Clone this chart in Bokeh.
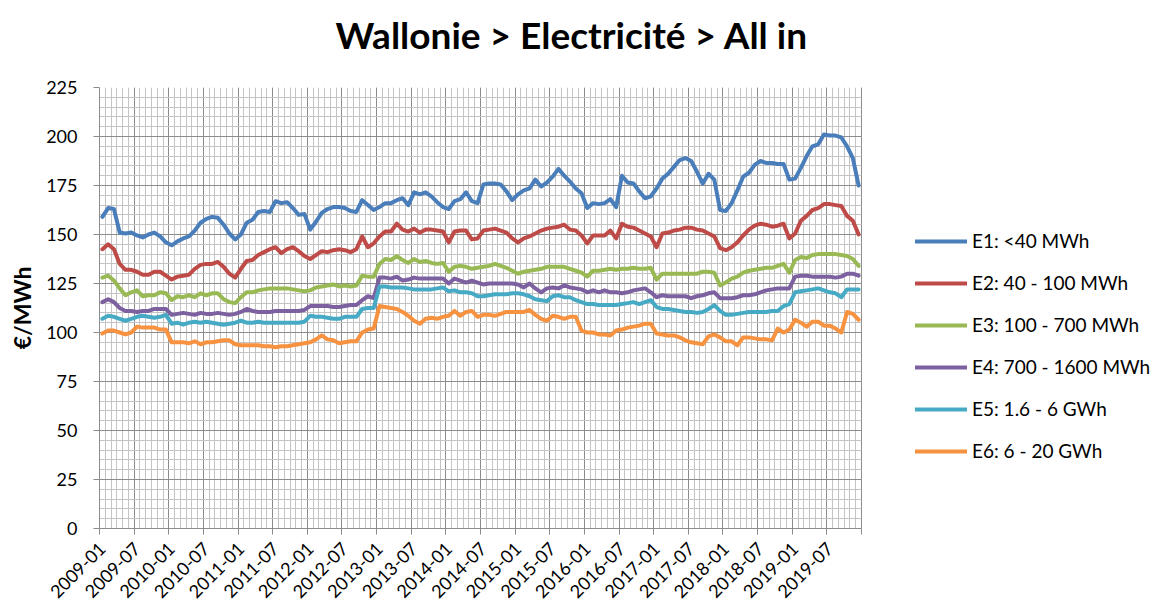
from math import pi
from bokeh.plotting import figure
from bokeh.models import FixedTicker, Legend, LegendItem, Range1d, Grid, BoxAnnotation, Title
from bokeh.embed import file_html
from bokeh.resources import INLINE

# ---- data -------------------------------------------------------------
months = [f"{y}-{m:02d}" for y in range(2009, 2020) for m in range(1, 13)]

tick_labels = ["2009-01", "2009-07", "2010-01", "2010-07", "2011-01", "2011-07",
               "2012-01", "2012-07", "2013-01", "2013-07", "2014-01", "2014-07",
               "2015-01", "2015-07", "2016-01", "2016-07", "2017-01", "2017-07",
               "2018-01", "2018-07", "2019-01", "2019-07"]

series_names = ["E1: <40 MWh", "E2: 40 - 100 MWh", "E3: 100 - 700 MWh",
                "E4: 700 - 1600 MWh", "E5: 1.6 - 6 GWh", "E6: 6 - 20 GWh"]

E1 = [159, 163.5, 163, 151, 150.5, 151, 149.5, 148.5, 150, 151, 149, 146,
      144.5, 146.5, 148, 149, 152, 156, 158, 159, 158.5, 155, 150.5, 147.5,
      150, 156, 157.5, 161.5, 162, 161.5, 167, 166, 166.5, 163.5, 160, 160.5,
      152.5, 156.5, 161, 163, 164, 164, 163.5, 162, 161.5, 167.5, 165, 162.5,
      164, 166, 166, 167.5, 168.5, 165, 171.5, 170.5, 171.5, 169.5, 166.5, 164,
      163, 167, 168, 171.5, 167, 166, 175.5, 176, 176, 175.5, 172, 167.5,
      170.5, 172.5, 173.5, 178, 174.5, 176.5, 179.5, 183.5, 180, 177, 173.5, 171,
      163.5, 166, 165.5, 166, 168, 164, 180, 176.5, 176, 172, 168.5, 169.5,
      173.5, 178.5, 181, 184.5, 188, 189, 187.5, 182, 176, 181, 178, 162.5,
      162, 166, 172.5, 179.5, 181.5, 185.5, 187.5, 186.5, 186.5, 186, 186, 178,
      178.5, 184, 190, 195, 196, 201, 200.5, 200.5, 199.5, 195, 189, 175]

E2 = [142.5, 145, 142.5, 135, 132, 132, 131, 129.5, 129.5, 131, 131, 129,
      127, 128.5, 129, 129.5, 132.5, 134.5, 135, 135, 136, 133.5, 130, 128,
      132.5, 136.5, 137, 139.5, 141, 142.5, 143.5, 140.5, 142.5, 143.5, 141.5, 139,
      137.5, 139.5, 141.5, 141, 142, 142.5, 142, 141, 142.5, 149, 143.5, 145.5,
      149, 151.5, 151.5, 155.5, 152.5, 151.5, 153, 151, 152.5, 152.5, 152, 151.5,
      146, 151.5, 152, 152, 147.5, 148, 152, 152.5, 153, 152, 151, 148,
      146, 148, 149, 150.5, 152, 153, 153.5, 154, 155, 152.5, 152, 149.5,
      145.5, 149.5, 149.5, 149.5, 152, 148, 155.5, 154, 153.5, 152, 150.5, 149,
      143.5, 150.5, 151, 152, 152.5, 153.5, 153.5, 152.5, 152, 150.5, 149, 143,
      142, 143.5, 146, 149.5, 152.5, 154.5, 155.5, 155, 154, 154.5, 155.5, 148,
      150.5, 157, 159.5, 162.5, 163.5, 165.5, 165.5, 165, 164.5, 159.5, 157, 150]

E3 = [128, 129, 126.5, 122.5, 119, 120.5, 121.5, 118.5, 119, 119, 120.5, 120,
      116.5, 118.5, 118, 119, 118, 120, 119, 120, 120, 117, 115.5, 115,
      118, 120.5, 120.5, 121.5, 122, 122.5, 122.5, 122.5, 122.5, 122, 121.5, 121,
      121.5, 123, 123.5, 124, 124.5, 123.5, 124, 123.5, 124, 129, 128.5, 128.5,
      135, 137.5, 137, 139, 137, 135.5, 137.5, 136, 136.5, 135.5, 135, 135.5,
      131, 133.5, 134, 133.5, 132.5, 133, 133.5, 134, 135, 134, 133, 131.5,
      130, 131, 131.5, 132, 132.5, 133.5, 133.5, 133.5, 133.5, 132.5, 131.5, 130.5,
      128.5, 131.5, 131.5, 132, 132.5, 132, 132.5, 132.5, 133, 132.5, 132.5, 133,
      127, 130, 130, 130, 130, 130, 130, 130, 131, 131, 130.5, 124,
      125.5, 127.5, 128.5, 130.5, 131.5, 132, 132.5, 133, 133, 134, 135, 130.5,
      137, 138.5, 138, 139.5, 140, 140, 140, 140, 139.5, 139, 137.5, 134]

E4 = [115.5, 117, 115.5, 112.5, 111, 111, 110.5, 111, 111, 112, 112, 112,
      109, 109.5, 110, 109.5, 109, 110, 109.5, 109.5, 110, 109.5, 109, 109.5,
      110.5, 112, 111, 110.5, 110.5, 110.5, 111, 111, 111, 111, 111, 111.5,
      113.5, 113.5, 113.5, 113.5, 113, 113, 113.5, 114, 114, 116.5, 118.5, 117.5,
      128, 128, 127.5, 128.5, 126.5, 127, 128, 127.5, 127.5, 127.5, 127.5, 127.5,
      125, 127.5, 126.5, 125.5, 126.5, 125.5, 124.5, 125, 125, 125, 125, 125,
      124.5, 123, 125, 122.5, 120.5, 122.5, 123, 122.5, 124, 123, 122.5, 122,
      120.5, 121.5, 120.5, 121.5, 120.5, 120.5, 120, 120.5, 121.5, 122, 122.5, 120.5,
      118, 119, 118.5, 118.5, 118.5, 118.5, 117.5, 118.5, 119, 120, 120.5, 117.5,
      117.5, 117.5, 118, 119, 119, 119.5, 120.5, 121.5, 122, 122.5, 122.5, 122.5,
      128.5, 129, 129, 128.5, 128.5, 128.5, 128.5, 128, 128.5, 130, 130, 129]

E5 = [107, 108.5, 108, 107, 106, 107, 108, 108.5, 108, 107.5, 108, 109,
      104.5, 105, 104, 105, 105.5, 105, 105.5, 105, 104.5, 104, 104.5, 105,
      106, 105, 105, 105.5, 105, 105, 105, 105, 105, 105, 105, 105.5,
      108.5, 108, 108, 107.5, 107, 107, 108, 108, 108, 112, 112.5, 112.5,
      123.5, 123.5, 123, 123, 123, 122.5, 122, 122, 122, 122, 122.5, 123,
      121, 121.5, 120.5, 120.5, 120, 118.5, 118.5, 119, 119.5, 119.5, 119.5, 120,
      120, 119.5, 118.5, 117, 116.5, 116, 118.5, 119, 118, 118, 116.5, 115.5,
      114.5, 114.5, 114, 114, 114, 114, 114.5, 115, 115.5, 114.5, 115.5, 116.5,
      113, 112, 112, 111.5, 111, 110.5, 110.5, 110, 110.5, 112, 114, 111,
      109, 109, 109.5, 110, 110.5, 110.5, 110.5, 110.5, 111, 111, 113.5, 114.5,
      120.5, 121, 121.5, 122, 122.5, 121.5, 120.5, 120, 118, 122, 122, 122]

E6 = [99.5, 101, 101, 100, 99, 100, 103, 102.5, 102.5, 102.5, 101.5, 101.5,
      95, 95, 95, 94.5, 95.5, 94, 95, 95, 95.5, 96, 96, 94,
      93.5, 93.5, 93.5, 93.5, 93, 93, 92.5, 93, 93, 93.5, 94, 94.5,
      95, 96.5, 98.5, 96.5, 96, 94.5, 95, 95.5, 95.5, 100, 101.5, 102,
      113.5, 113, 112.5, 112, 110.5, 108.5, 106, 104.5, 107, 107.5, 107, 108,
      108.5, 111, 108.5, 110.5, 111, 108, 109, 109, 108.5, 109.5, 110.5, 110.5,
      110.5, 110.5, 111.5, 109, 107, 106, 108.5, 108, 107, 108, 108, 101,
      100, 100, 99, 99, 98.5, 101, 101.5, 102.5, 103, 103.5, 104.5, 104.5,
      99.5, 99, 98.5, 98.5, 97.5, 96, 95, 94.5, 94, 98, 99, 97.5,
      95.5, 95.5, 93.5, 97.5, 97.5, 97, 96.5, 96.5, 96, 102, 100, 101.5,
      106.5, 105, 103, 105.5, 105.5, 103.5, 103.5, 102, 100, 110.5, 109.5, 106.5]

colors = ["#4A7EBB", "#BE4B48", "#98B954", "#7D60A0", "#46AAC5", "#F69240"]

# ---- layout constants -----------------------------------------------------
FONT = "Lato"
n = len(months)
x = list(range(n))
LEFT, TOP, BOTTOM = 99, 87, 78
W, H = 1158, 606
PLOT_PX = 762                       # width of the gridded plot area
frame_px = W - LEFT                 # frame runs to the right edge (legend lives there)
x_end = -0.5 + n * frame_px / PLOT_PX

p = figure(width=W, height=H, title=None,
           x_range=Range1d(-0.5, x_end), y_range=Range1d(0, 225),
           output_backend="svg", toolbar_location=None,
           min_border_left=LEFT, min_border_right=0,
           min_border_top=TOP, min_border_bottom=BOTTOM)
p.outline_line_color = None
p.background_fill_color = "white"

# spacer between frame and title (closest to the frame), then the title
p.add_layout(Title(text=" ", text_font=FONT, text_font_size="10px",
                   standoff=17), "above")
p.add_layout(Title(text="Wallonie > Electricité > All in",
                   text_font=FONT, text_font_size="37px", text_font_style="bold",
                   text_color="black", align="left", offset=236, standoff=0),
             "above")

major_c = "#8C8C8C"
minor_c = "#C4C4C4"
data_bounds = (-0.5, n - 0.5)

# x axis: labels at category centres, tick marks at category boundaries
label_pos = [months.index(t) for t in tick_labels]
bounds6 = [i - 0.5 for i in range(0, n + 1, 6)]
bounds1 = [i - 0.5 for i in range(0, n + 1)]
p.xaxis.bounds = data_bounds
p.xaxis.ticker = FixedTicker(ticks=label_pos, minor_ticks=bounds6)
p.xaxis.major_label_overrides = {pos: lab for pos, lab in zip(label_pos, tick_labels)}
p.xaxis.major_tick_line_color = None
p.xaxis.major_tick_out = 0
p.xaxis.major_tick_in = 0
p.xaxis.minor_tick_in = 0
p.xaxis.minor_tick_out = 6
p.xaxis.minor_tick_line_color = major_c
p.xaxis.axis_line_color = major_c
p.xaxis.major_label_orientation = pi / 4
p.xaxis.major_label_text_font = FONT
p.xaxis.major_label_text_font_size = "18px"
p.xaxis.major_label_text_color = "black"
p.xaxis.major_label_standoff = 11

p.xgrid.ticker = FixedTicker(ticks=bounds6, minor_ticks=bounds1)
p.xgrid.grid_line_color = major_c
p.xgrid.minor_grid_line_color = minor_c

# y axis
p.yaxis.ticker = FixedTicker(ticks=list(range(0, 226, 25)),
                             minor_ticks=list(range(0, 226, 5)))
p.yaxis.minor_tick_line_color = None
p.yaxis.major_tick_in = 0
p.yaxis.major_tick_out = 6
p.yaxis.major_tick_line_color = major_c
p.yaxis.axis_line_color = major_c
p.yaxis.major_label_text_font = FONT
p.yaxis.major_label_text_font_size = "18px"
p.yaxis.major_label_text_color = "black"
p.yaxis.major_label_standoff = 16
p.yaxis.axis_label = "€/MWh"
p.yaxis.axis_label_text_font = FONT
p.yaxis.axis_label_text_font_size = "23px"
p.yaxis.axis_label_text_font_style = "bold"
p.yaxis.axis_label_text_color = "black"
p.yaxis.axis_label_standoff = 7

p.ygrid.grid_line_color = major_c
p.ygrid.minor_grid_line_color = minor_c

has_cross = "cross_bounds" in Grid.properties()
if has_cross:
    p.ygrid.cross_bounds = data_bounds
    p.xgrid.bounds = data_bounds
else:
    p.add_layout(BoxAnnotation(left=n - 0.5, fill_color="white", fill_alpha=1,
                               line_color=None, level="underlay"))

items = []
for name, vals, c in zip(series_names, [E1, E2, E3, E4, E5, E6], colors):
    r = p.line(x, vals, line_color=c, line_width=4,
               line_join="round", line_cap="round")
    items.append(LegendItem(label=name, renderers=[r]))

legend = Legend(items=items, location=(816, 66),
                glyph_width=52, glyph_height=20, label_height=20,
                spacing=19, padding=0, margin=0, label_standoff=5,
                border_line_color=None, background_fill_alpha=0,
                label_text_font=FONT, label_text_font_size="19px",
                label_text_color="black")
p.add_layout(legend)

open("out.html", "w").write(file_html(p, INLINE))
